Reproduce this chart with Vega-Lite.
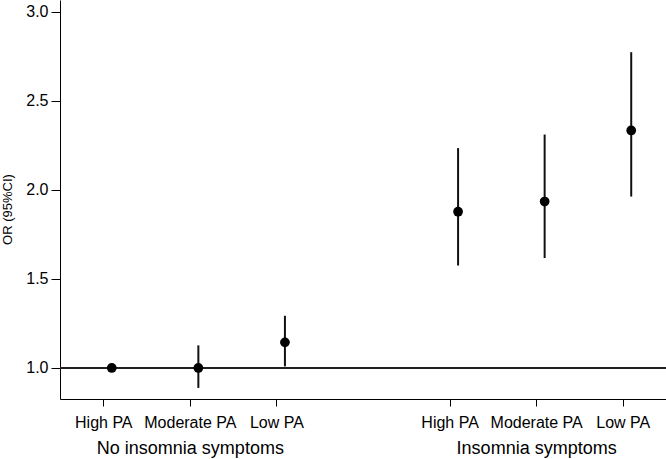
{
  "$schema": "https://vega.github.io/schema/vega-lite/v6.json",
  "width": 606,
  "height": 399,
  "autosize": {"type": "none"},
  "padding": {"left": 60, "top": 0, "right": 0, "bottom": 60},
  "background": "white",
  "config": {
    "view": {"stroke": null},
    "font": "Liberation Sans",
    "axis": {
      "grid": false,
      "domainColor": "#000",
      "domainWidth": 1,
      "tickColor": "#000",
      "tickWidth": 1,
      "labelColor": "#000",
      "titleColor": "#000",
      "labelFont": "Liberation Sans",
      "titleFont": "Liberation Sans",
      "titleFontWeight": "normal"
    }
  },
  "data": {
    "values": [
      {"group": "No insomnia symptoms", "activity": "High PA", "pos": 1, "or": 1.0, "lo": 1.0, "hi": 1.0},
      {"group": "No insomnia symptoms", "activity": "Moderate PA", "pos": 2, "or": 1.0, "lo": 0.888, "hi": 1.127},
      {"group": "No insomnia symptoms", "activity": "Low PA", "pos": 3, "or": 1.144, "lo": 1.009, "hi": 1.293},
      {"group": "Insomnia symptoms", "activity": "High PA", "pos": 5, "or": 1.877, "lo": 1.575, "hi": 2.234},
      {"group": "Insomnia symptoms", "activity": "Moderate PA", "pos": 6, "or": 1.934, "lo": 1.617, "hi": 2.31},
      {"group": "Insomnia symptoms", "activity": "Low PA", "pos": 7, "or": 2.333, "lo": 1.962, "hi": 2.772}
    ]
  },
  "layer": [
    {
      "mark": {"type": "rule", "color": "#222", "strokeWidth": 1.3},
      "encoding": {
        "y": {
          "datum": 1,
          "type": "quantitative",
          "scale": {"domain": [0.826, 3.065], "zero": false, "nice": false},
          "axis": null
        }
      }
    },
    {
      "mark": {"type": "rule", "color": "#111", "strokeWidth": 2, "xOffset": 8.5},
      "encoding": {
        "x": {
          "field": "pos",
          "type": "quantitative",
          "scale": {"domain": [0.5, 7.5], "nice": false, "zero": false},
          "axis": {
            "orient": "bottom",
            "values": [2, 6],
            "labelExpr": "datum.value == 2 ? 'No insomnia symptoms' : 'Insomnia symptoms'",
            "ticks": false,
            "tickSize": 0,
            "domain": false,
            "labelPadding": 40,
            "labelFontSize": 18,
            "labelLimit": 400,
            "labelFlush": false,
            "labelOverlap": false,
            "title": null
          }
        },
        "y": {
          "field": "lo",
          "type": "quantitative",
          "scale": {"domain": [0.826, 3.065], "zero": false, "nice": false},
          "axis": null
        },
        "y2": {"field": "hi"}
      }
    },
    {
      "mark": {"type": "point", "filled": true, "shape": "circle", "size": 95, "color": "#000", "opacity": 1, "xOffset": 8.5},
      "encoding": {
        "x": {
          "field": "pos",
          "type": "quantitative",
          "scale": {"domain": [0.5, 7.5], "nice": false, "zero": false},
          "axis": {
            "orient": "bottom",
            "values": [1, 2, 3, 5, 6, 7],
            "labelExpr": "datum.value == 1 || datum.value == 5 ? 'High PA' : (datum.value == 2 || datum.value == 6 ? 'Moderate PA' : 'Low PA')",
            "tickSize": 7,
            "labelPadding": 8,
            "labelFontSize": 16,
            "labelLimit": 300,
            "labelFlush": false,
            "labelOverlap": false,
            "title": null,
            "encode": {
              "labels": {
                "update": {
                  "dx": {"signal": "datum.value == 1 || datum.value == 5 ? 0.5 : (datum.value == 2 || datum.value == 6 ? 6 : 9.5)"}
                }
              }
            }
          }
        },
        "y": {
          "field": "or",
          "type": "quantitative",
          "scale": {"domain": [0.826, 3.065], "zero": false, "nice": false},
          "axis": {
            "orient": "left",
            "values": [1, 1.5, 2, 2.5, 3],
            "format": ".1f",
            "tickSize": 9,
            "labelPadding": 3,
            "labelFontSize": 16,
            "labelFlush": false,
            "title": "OR (95%CI)",
            "titleFontSize": 13,
            "titleX": -53,
            "titleY": 209,
            "titleAlign": "center",
            "titleBaseline": "middle",
            "titleAngle": 270
          }
        }
      }
    }
  ],
  "resolve": {"axis": {"x": "independent", "y": "independent"}}
}
